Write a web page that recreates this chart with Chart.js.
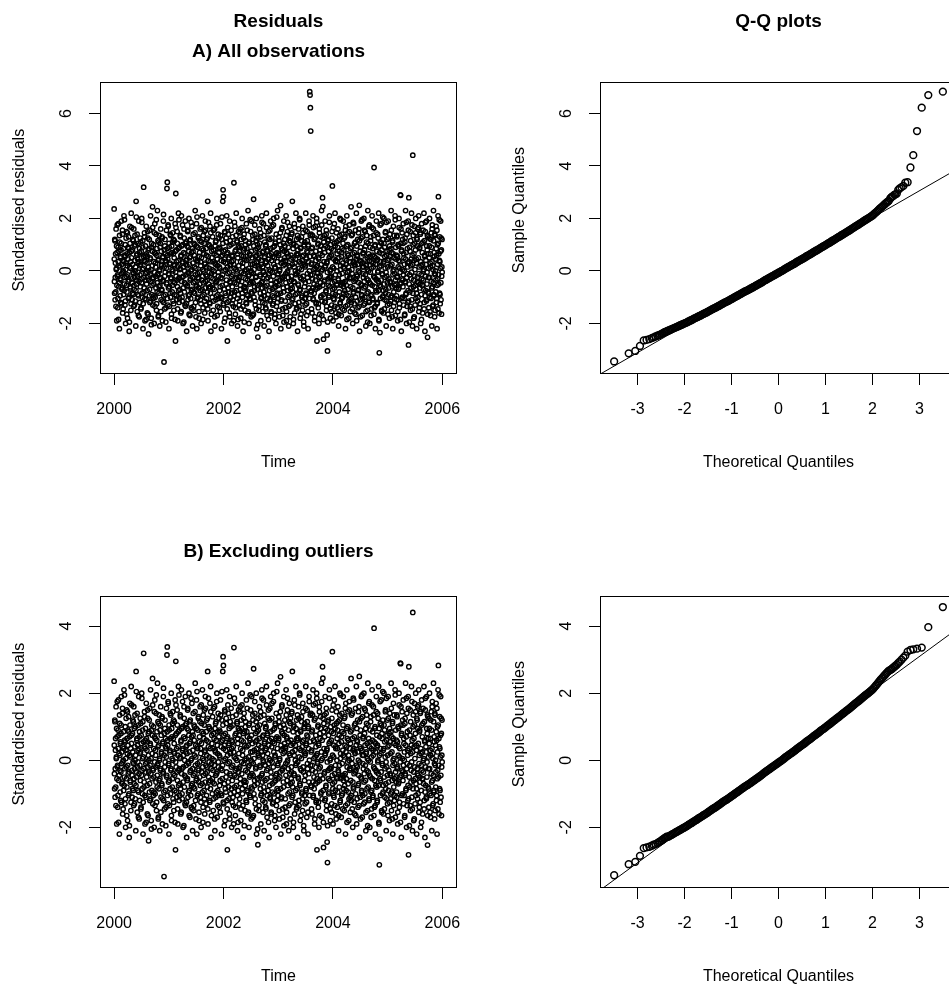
<!DOCTYPE html>
<html>
<head>
<meta charset="utf-8">
<script src="https://cdn.jsdelivr.net/npm/chart.js@4.4.1/dist/chart.umd.min.js"></script>
<style>
  html, body { margin: 0; padding: 0; background: #fff; overflow: hidden; }
  #page { position: relative; width: 949px; height: 987px; overflow: hidden; }
  canvas { position: absolute; }
</style>
</head>
<body>
<div id="page">
  <canvas id="resA" width="480" height="473" style="left:0;top:0"></canvas>
  <canvas id="qqA" width="500" height="473" style="left:480px;top:0"></canvas>
  <canvas id="resB" width="480" height="473" style="left:0;top:514px"></canvas>
  <canvas id="qqB" width="500" height="473" style="left:480px;top:514px"></canvas>
</div>
<script>
// Standardised residuals, 2000 to 2006: even-numbered observations
const residuals = [
  2.36,-0.4,1.2,-1.1,0.3,-0.8,1.6,0.1,-1.9,0.7,-0.2,-1.4,0.9,1.8,-0.6,0.2,-2.2,1.1,-0.3,0.5,
  -1.2,0.8,1.9,-0.1,-0.7,1.4,-1.6,0.4,0.0,-0.9,2.1,-0.5,0.6,-1.3,1.0,-2.0,0.3,-0.2,1.5,-0.8,
  0.2,-1.8,0.9,-0.4,1.3,-1.0,-2.3,0.7,1.7,-0.6,0.1,-1.5,2.2,0.5,-0.3,-1.1,0.8,1.2,-0.9,-0.1,
  1.6,-0.7,-1.3,0.4,0.0,1.0,-2.1,2.65,-0.5,0.6,1.4,-0.2,-0.9,0.3,-1.7,1.9,-0.4,0.7,-1.2,0.2,
  -0.6,1.1,-1.4,0.5,2.0,-0.3,-1.0,0.9,-2.2,0.1,3.19,-0.8,0.4,1.3,-1.9,0.6,-0.1,-1.1,1.7,-0.5,
  0.3,-1.6,1.5,-0.2,0.8,-2.4,0.0,1.2,-0.7,-1.2,0.5,2.1,-0.4,-1.8,0.9,-0.9,0.2,2.44,-1.3,-0.3,
  1.0,-0.5,-2.0,0.7,1.8,-1.0,0.3,-0.2,1.4,-1.5,0.6,-0.8,2.3,-0.1,0.4,-1.7,1.1,-0.6,0.0,-2.1,
  0.9,-0.3,1.6,-1.1,0.2,-0.7,1.3,-1.9,0.5,-0.4,1.9,-1.2,-3.47,0.8,-0.2,1.2,-0.9,0.4,-1.4,0.1,
  -0.5,3.14,3.38,0.6,-1.3,1.7,-0.1,-2.2,0.9,-0.6,0.3,1.4,-1.0,-0.3,2.0,-1.8,0.7,-0.8,1.1,0.0,
  -0.4,1.2,-1.5,0.5,0.2,-0.9,1.8,-2.67,2.95,-0.2,0.8,-1.1,1.5,-0.6,-1.9,0.4,2.2,-0.3,-1.2,0.9,
  -0.7,0.1,1.3,-1.6,0.6,2.1,-0.4,-1.0,0.3,1.0,-2.0,-0.2,0.7,1.6,-0.8,0.0,-1.3,1.9,-0.5,0.4,
  1.1,-2.3,0.2,-0.6,1.5,-1.1,0.9,-0.1,2.0,-0.9,0.5,-1.7,1.2,-0.3,0.0,-1.4,0.7,1.7,-0.7,-2.1,
  0.3,1.4,-0.8,-1.5,0.6,1.0,-0.4,2.3,-1.2,0.1,-0.6,1.8,-2.2,0.4,-0.1,0.9,-1.0,1.3,-0.3,-1.8,
  0.7,-0.5,1.6,-1.1,0.2,-2.0,0.5,1.1,-0.7,2.1,-0.2,-1.4,0.8,0.0,-0.9,1.5,-1.6,0.3,1.9,-0.4,
  -1.3,0.6,1.2,-0.2,-0.8,2.65,-1.9,0.4,-0.5,1.0,0.1,-1.2,1.7,-0.6,2.2,-2.3,0.9,-0.1,0.5,-1.0,
  1.3,-0.3,-1.5,0.8,0.0,-0.7,1.6,-2.1,0.3,1.1,-1.1,0.6,-0.4,2.0,-1.7,0.2,-0.9,1.4,-0.2,0.7,
  -1.4,0.9,0.1,-0.6,1.8,-1.0,0.4,-2.2,1.2,-0.3,0.6,2.65,3.09,2.83,-1.3,0.0,-0.7,1.5,-1.8,0.8,
  0.3,-0.5,1.1,2.1,-1.2,-2.67,0.7,-0.1,1.4,-0.8,0.5,-1.6,1.9,-0.4,0.2,-1.0,1.0,-0.2,-2.0,0.6,
  -0.6,1.3,-1.1,0.4,-1.9,3.36,0.1,-0.8,1.7,-0.3,-1.4,0.8,2.2,-0.5,0.0,1.1,-2.1,0.5,-0.9,1.5,
  0.2,-1.3,0.9,-0.2,1.6,-0.7,-1.8,1.2,0.6,-0.4,2.0,-1.0,0.3,-2.3,0.8,-0.1,1.4,-0.6,0.0,-1.5,
  1.0,-0.3,-1.2,1.8,0.4,-0.9,0.7,-1.6,2.3,-0.2,0.1,-2.0,1.1,-0.5,0.6,-1.1,1.5,0.0,-0.8,1.9,
  -0.4,0.5,-1.7,1.2,-0.1,2.73,-1.0,0.3,-0.6,1.4,-1.3,0.8,-0.2,2.0,-2.2,0.6,-0.7,1.0,-2.52,0.2,
  0.9,-1.5,0.1,1.6,-0.5,-0.2,1.3,-1.9,0.4,-1.0,2.1,-0.4,0.7,-1.2,0.0,1.8,-0.8,-2.1,0.5,1.1,
  -0.6,0.3,-1.4,1.0,2.2,-0.3,-1.7,0.8,0.2,-0.9,1.5,-0.1,-2.3,0.6,1.2,-1.1,0.0,1.9,-0.5,-1.6,
  0.4,1.7,-0.7,-1.3,0.9,-0.2,2.0,-1.0,0.5,-1.8,0.1,1.1,-0.6,-2.0,1.4,-0.4,0.7,-1.2,2.3,-0.1,
  -0.9,0.6,1.3,-1.5,0.0,-0.5,1.0,2.49,-2.2,0.3,-1.1,1.6,-0.3,0.8,-1.7,0.2,-0.8,1.9,-0.2,0.5,
  1.2,-1.4,0.4,-0.1,2.1,-1.9,0.7,-0.6,1.5,0.0,-1.0,0.9,-2.1,0.2,1.7,-0.4,-1.3,1.1,-0.7,0.6,
  -0.2,1.4,-1.1,2.65,-0.8,0.5,-2.0,1.0,-0.4,1.8,-1.6,0.3,0.0,-0.9,2.2,-0.1,1.2,-1.4,0.6,-2.3,
  0.8,-0.5,1.6,-1.2,0.1,2.0,-0.7,-1.8,0.9,0.3,-0.3,1.3,-1.0,0.4,-1.5,1.7,-0.2,0.6,-2.1,1.0,
  -0.6,1.1,-1.3,0.2,2.2,-0.9,0.5,-1.7,1.5,-0.1,0.7,-2.2,1.0,-0.4,1.9,0.0,6.83,6.70,6.22,5.33,
  1.4,-0.8,0.3,-1.6,0.9,-0.3,2.1,-1.1,0.6,-0.5,1.2,-1.9,0.1,1.7,-0.7,0.4,-1.2,2.0,-2.67,0.2,
  -0.1,1.0,-1.4,0.5,-2.0,1.6,-0.6,0.8,-0.2,1.3,-1.0,0.0,2.3,-1.7,0.6,2.79,2.45,-0.9,-2.6,1.1,
  -0.4,0.7,-1.2,1.9,0.2,-0.8,1.4,-1.5,0.3,-2.44,-3.05,0.9,-0.3,1.2,-1.0,0.5,2.1,-0.6,0.0,-1.8,
  1.0,-0.2,0.6,-1.3,1.5,3.24,-0.7,-1.9,0.8,0.1,-1.1,1.8,-0.4,2.2,-0.9,0.4,-1.6,1.1,-0.5,0.0,
  -1.4,0.9,1.6,-0.3,-2.1,0.5,-0.8,1.2,2.0,-1.2,0.2,-0.5,-1.7,0.7,1.4,-0.1,-1.0,0.3,1.9,-0.6,
  0.8,-1.5,0.1,1.3,-0.4,-2.2,1.7,-0.9,0.4,2.1,-0.2,-1.3,1.0,-0.7,0.6,-1.8,0.0,1.5,-0.3,-1.1,
  0.5,-0.6,2.44,-1.2,0.9,-0.1,1.4,-2.0,0.3,-0.8,1.8,-0.4,0.7,-1.6,0.2,1.1,-1.0,-0.3,2.2,-1.9,
  0.6,-0.2,1.2,-1.4,0.0,-0.7,1.6,2.50,-2.3,0.4,-1.1,0.9,-0.5,1.9,-0.9,0.3,-1.7,1.3,-0.1,0.7,
  -1.3,2.0,-0.4,0.8,-1.0,1.5,-0.6,-2.1,0.2,1.1,-0.3,0.5,-1.5,2.3,-0.8,0.0,1.7,-1.2,0.4,-2.0,
  0.9,-0.5,1.3,-1.7,0.1,-0.9,2.1,0.6,-1.1,0.3,1.6,-0.2,3.94,-1.4,-0.6,1.0,-2.2,0.5,-0.3,1.9,
  -0.8,0.4,-1.2,1.4,0.0,-0.4,2.2,-1.9,-3.12,0.7,-2.35,1.1,-0.6,0.2,1.8,-1.5,0.8,-0.1,-1.0,1.2,
  0.3,-1.6,2.0,-0.5,0.9,-1.1,0.1,1.5,-0.7,-2.1,0.6,-0.2,1.2,-1.3,0.4,1.9,-0.9,-0.3,0.8,-1.8,
  1.4,-0.4,0.2,-1.0,2.3,-1.5,0.7,-0.6,1.1,-2.2,0.0,1.7,-0.8,0.5,-1.2,-0.1,2.1,-1.7,0.9,-0.5,
  0.6,-1.1,1.3,-0.2,-1.9,1.0,-0.7,0.4,2.0,-1.4,0.1,-0.5,2.90,2.88,1.6,-2.3,0.8,-0.3,-1.0,1.2,
  -0.6,1.8,-1.3,0.5,0.0,-1.7,1.1,-0.4,2.30,-0.9,0.7,-2.0,1.4,-0.1,0.3,-1.2,1.9,-2.82,2.79,-0.5,
  0.9,-0.8,1.5,-1.5,0.2,-0.3,2.2,-1.1,0.6,-2.1,4.41,1.0,-0.6,-1.8,0.4,1.7,-0.2,-1.3,0.8,2.0,
  -0.7,0.3,-2.2,1.2,-0.4,1.6,-1.0,0.5,2.1,-0.1,-1.4,0.9,-0.5,1.4,-2.0,0.2,-0.9,1.8,-0.3,0.7,
  -1.6,1.1,0.0,-0.7,2.2,-1.2,0.6,-2.3,1.5,-0.2,0.4,-1.1,1.9,-0.5,0.8,-2.53,1.3,-0.8,0.1,-1.4,
  0.5,2.0,-1.0,0.3,-1.7,1.2,-0.4,0.9,-2.1,1.6,-0.6,0.2,-1.3,2.3,-0.9,0.7,-0.1,1.4,-1.5,0.0,
  -0.8,1.7,-1.2,0.6,-2.2,1.0,-0.3,2.1,2.83,-0.5,-1.6,0.4,1.3,-0.9,0.1,1.9,-1.1,0.8,-0.2,1.2
];
// odd-numbered observations (each falls between two of the values above)
const residualsMid = [
  0.45,-0.85,1.15,-0.25,0.65,-1.35,0.05,0.95,-0.55,1.75,-0.15,-1.05,0.35,-1.85,0.75,-0.45,1.35,0.15,-0.95,0.55,
  -0.35,1.05,-1.25,0.25,-0.65,1.55,-0.05,-1.45,0.85,0.35,-0.75,1.95,-0.25,0.55,-1.15,0.05,1.25,-0.55,-1.65,0.65,
  1.45,-0.15,0.45,-1.05,0.85,-0.35,-1.95,0.15,1.05,-0.65,0.35,-1.25,0.75,1.65,-0.45,-0.85,0.25,-0.05,1.15,-1.35,
  -0.55,0.95,-0.25,1.35,-1.15,0.15,-0.75,2.05,-0.35,0.65,-1.55,0.45,-0.05,1.05,-0.95,0.35,-1.75,0.85,-0.15,1.25,
  0.25,-1.45,0.75,-0.45,1.85,-0.85,0.05,1.15,-1.25,0.55,-0.25,-0.65,1.45,-1.05,0.35,0.95,-0.35,-1.85,0.65,-0.05,
  -0.75,0.55,1.25,-1.65,0.15,-0.35,0.85,-0.95,1.55,-0.15,0.45,-1.15,0.05,-2.05,1.05,-0.55,0.75,1.65,-0.25,-1.05,
  0.35,-0.95,1.45,-0.05,-1.35,0.65,0.15,-0.65,1.95,-1.25,0.85,-0.45,-0.15,1.15,-1.75,0.45,-0.85,1.35,0.05,-0.55,
  1.05,-0.25,-1.55,0.75,0.25,-0.75,1.25,-1.15,0.55,-0.35,2.15,-0.95,0.15,-1.45,0.95,-0.05,0.65,-1.95,0.35,1.55,
  -0.45,0.85,-1.05,0.45,1.75,-0.65,-0.15,1.05,-1.35,0.25,-0.85,0.65,1.35,-0.25,-1.65,0.95,0.05,-0.55,1.45,-1.15,
  0.65,-1.25,0.25,1.15,-0.45,-1.85,0.75,-0.05,1.65,-0.95,0.35,-0.35,1.05,-1.45,0.15,0.85,-0.75,1.95,-0.25,-1.05,
  0.05,1.35,-0.85,0.55,-1.55,0.95,-0.25,-1.15,1.75,0.35,-0.65,0.15,-1.95,1.25,-0.45,0.65,1.05,-1.35,0.25,-0.15,
  -1.25,0.45,0.95,-0.55,1.55,-0.05,-0.95,0.75,-1.65,0.25,1.15,-0.35,0.55,-1.05,1.85,-0.75,0.05,-1.45,0.85,-0.25,
  0.75,-0.45,-1.35,1.05,0.15,-0.85,1.45,-0.15,0.45,-1.75,0.95,-0.55,2.05,-1.05,0.35,-0.25,1.25,-0.65,-1.55,0.55,
  -0.05,1.15,-0.75,0.35,-1.25,1.65,-0.35,0.85,-0.95,0.05,-1.85,1.35,-0.45,0.65,1.05,-1.15,0.25,-0.65,1.55,-0.15,
  0.85,-1.05,0.15,-0.35,1.25,-1.45,0.55,1.85,-0.65,-0.05,0.95,-1.25,0.35,-0.85,1.45,-0.25,-1.65,0.75,0.05,-0.55,
  -0.65,0.35,1.55,-1.15,0.65,-0.15,-1.75,0.95,0.25,-0.45,1.15,-0.95,1.75,-0.35,0.45,-1.35,0.85,-0.05,-1.05,1.25,
  0.15,-0.75,0.85,-1.55,1.35,-0.25,0.55,-1.05,2.05,-0.55,-0.15,1.05,-1.25,0.35,0.75,-1.95,0.45,1.45,-0.85,0.05,
  -0.95,1.25,-0.35,0.65,-1.45,0.15,1.65,-0.65,0.45,-1.15,0.95,-0.05,-1.75,1.15,0.25,-0.45,1.55,-0.85,0.35,-1.25,
  0.55,-0.15,1.05,-1.35,0.25,-0.95,1.85,-0.45,0.75,-1.65,0.05,1.35,-0.75,-0.25,1.15,-1.05,0.65,-1.85,0.95,-0.35,
  -0.25,0.75,-1.15,1.45,-0.55,0.35,-1.45,0.95,-0.05,1.65,-0.85,0.15,-1.35,0.55,1.25,-0.65,-1.95,0.85,0.45,-0.75,
  1.15,-0.65,0.05,-1.25,0.85,1.55,-0.35,-0.95,0.45,-1.55,1.05,-0.15,0.65,-1.05,1.95,-0.45,0.25,-1.75,0.75,-0.05,
  -0.85,0.25,1.35,-0.45,-1.65,0.95,0.05,-0.75,1.75,-1.15,0.55,-0.25,1.15,-1.45,0.35,0.85,-0.55,-2.05,1.25,0.15,
  0.45,-1.35,0.65,1.05,-0.15,-0.85,1.45,-1.05,0.25,-0.45,1.85,-0.65,0.15,-1.55,0.75,-0.05,1.35,-0.95,0.55,-1.25,
  -0.15,0.95,-1.45,0.35,1.65,-0.55,-1.05,0.75,-0.25,1.25,-1.85,0.45,0.05,-0.75,1.55,-1.15,0.85,-0.35,-1.55,0.65,
  1.25,-0.05,-0.95,0.55,-1.25,1.75,0.25,-0.65,0.95,-1.65,0.15,1.05,-0.45,0.65,-1.35,2.05,-0.85,0.35,-0.15,-1.05,
  -0.55,0.65,1.15,-1.75,0.05,-0.35,1.45,-0.85,0.45,-1.15,0.85,1.65,-0.25,-1.45,0.35,-0.65,1.05,-1.95,0.75,0.25,
  0.95,-1.15,0.35,-0.45,1.35,-1.55,0.65,-0.05,1.85,-0.75,-0.25,0.55,-1.35,1.15,-0.95,0.15,-1.75,1.25,0.45,-0.55,
  -0.35,1.45,-0.65,0.25,-1.05,0.85,-1.85,1.05,0.15,-0.45,1.65,-1.25,0.45,-0.15,0.95,-1.45,0.65,-0.85,1.35,-0.05,
  0.65,-0.55,1.25,-1.35,0.35,1.95,-0.75,-0.25,0.85,-1.65,0.05,1.15,-0.95,0.55,-1.15,1.45,-0.35,-1.95,0.25,0.95,
  -1.05,0.15,-0.45,1.55,-0.85,0.45,-1.25,0.75,1.15,-0.25,-1.55,0.95,0.35,-0.65,1.75,-1.05,0.55,1.35,-0.15,-0.75,
  0.25,-1.45,0.85,-0.15,1.35,-0.65,-1.05,1.65,0.05,-0.85,0.55,-1.75,1.25,-0.35,0.75,-1.25,0.15,1.85,-0.55,-0.05,
  -0.65,1.05,-1.25,0.45,-0.25,1.45,-1.65,0.65,-0.45,0.95,-0.95,0.25,1.75,-1.15,0.05,-0.55,1.25,-1.85,0.85,0.35,
  1.35,-0.35,0.15,-1.15,0.95,-0.75,1.55,-1.35,0.35,-0.05,-1.95,1.15,-0.55,0.75,-0.95,1.85,-0.25,0.55,-1.45,0.05,
  -0.25,0.85,-1.55,1.25,-0.45,0.15,-0.85,1.65,-1.05,0.45,1.05,-0.65,-1.35,0.95,-0.15,0.35,-1.75,1.45,-0.55,0.65,
  0.35,-0.95,1.15,-0.35,-1.65,0.75,-0.15,1.35,-1.25,0.05,1.95,-0.55,0.55,-1.05,0.85,-0.45,-1.45,1.05,0.15,-0.85,
  -0.45,1.25,-0.75,0.45,1.55,-1.35,0.25,-0.55,0.95,-1.85,0.65,-0.05,1.45,-0.95,0.15,-1.15,1.75,-0.25,0.35,-1.55,
  0.85,-0.25,-1.05,1.35,0.05,-1.45,0.65,-0.65,1.85,-0.85,0.35,-1.25,1.05,0.25,-0.35,1.55,-1.65,0.45,-0.15,0.95,
  -1.15,0.55,0.25,-0.75,1.45,-0.45,-1.35,1.15,-0.05,0.75,-1.75,0.35,1.25,-0.55,-0.95,1.95,0.15,-1.05,0.65,-0.25,
  0.15,-0.65,1.55,-1.25,0.45,-0.15,0.95,-1.55,0.25,1.35,-0.85,0.05,-1.95,1.05,-0.35,0.65,-1.15,1.75,-0.45,0.55,
  -0.05,1.15,-0.95,0.35,-1.45,1.65,-0.55,0.85,-1.05,0.15,1.35,-1.65,0.55,-0.25,0.95,-1.35,0.25,-0.75,1.45,-0.35,
  0.75,-1.25,0.45,-0.05,1.25,-0.75,-1.85,0.95,0.15,-0.55,1.75,-1.05,0.35,-0.35,1.05,-1.55,0.65,-0.15,2.05,-0.95,
  -0.75,0.35,1.05,-1.45,0.55,-0.25,1.45,-0.85,-0.05,1.85,-1.15,0.75,-0.45,0.15,-1.65,1.25,-0.65,0.45,-1.25,0.95,
  0.55,-0.45,-1.15,0.85,1.55,-0.95,0.25,-1.75,1.15,-0.15,0.65,-1.35,0.05,1.35,-0.55,-1.05,1.95,-0.35,0.45,-0.65,
  -0.95,1.35,-0.25,0.55,-1.55,0.15,0.95,-0.65,1.65,-1.25,0.35,-0.05,-1.85,1.05,-0.45,0.75,-1.05,1.45,0.05,-0.35,
  1.05,-0.15,0.65,-1.05,0.25,-1.65,1.25,-0.45,0.45,-0.85,1.85,-0.25,-1.35,0.85,0.15,-0.75,1.55,-1.15,0.35,-1.95,
  -0.15,0.75,-1.35,1.15,-0.65,0.45,-0.05,1.75,-1.45,0.25,-0.85,1.35,-0.35,0.65,-1.75,1.05,0.05,-0.55,1.45,-1.05,
  0.45,-0.85,1.25,-0.25,-1.15,0.95,-0.45,1.65,-1.55,0.15,0.85,-0.65,-1.25,1.45,0.35,-0.15,-1.85,1.05,-0.55,0.25,
  -0.55,1.55,-0.35,0.05,-1.45,1.15,0.55,-0.95,1.85,-0.75,0.25,-1.15,0.95,-0.05,1.35,-1.65,0.65,-0.25,-0.85,1.25,
  0.95,-0.25,-1.55,0.65,0.15,-1.05,1.45,-0.65,0.35,1.75,-1.35,0.05,-0.45,1.15,-0.95,0.55,-1.75,1.35,-0.15,0.45,
  -0.35,0.85,-1.05,1.55,-0.55,0.25,-1.45,1.05,-0.15,0.65,1.95,-0.85,0.35,-1.25,0.75,-0.45,1.25,-1.65,0.15,-0.05
];
const tsStart = 2000;
const tsEnd = 2006;
// the four large residuals in mid 2003 (positions in `residuals`) are dropped for panel B
const outlierIndex = [596, 597, 598, 599];

// Q-Q plot: theoretical quantiles (shared by both rows) and sample quantiles
const qqTheoLow = [-3.50,-3.19,-3.05,-2.95,-2.87,-2.81,-2.75,-2.70,-2.66,-2.62,-2.58,-2.55,-2.52,-2.49,-2.47,-2.44,-2.42,-2.40,-2.38];
const qqTheoMid = [
  -2.35,-2.30,-2.25,-2.20,-2.15,-2.10,-2.05,-2.00,-1.95,-1.90,
  -1.85,-1.80,-1.75,-1.70,-1.65,-1.60,-1.55,-1.50,-1.45,-1.40,
  -1.35,-1.30,-1.25,-1.20,-1.15,-1.10,-1.05,-1.00,-0.95,-0.90,
  -0.85,-0.80,-0.75,-0.70,-0.65,-0.60,-0.55,-0.50,-0.45,-0.40,
  -0.35,-0.30,-0.25,-0.20,-0.15,-0.10,-0.05,0.00,0.05,0.10,
  0.15,0.20,0.25,0.30,0.35,0.40,0.45,0.50,0.55,0.60,
  0.65,0.70,0.75,0.80,0.85,0.90,0.95,1.00,1.05,1.10,
  1.15,1.20,1.25,1.30,1.35,1.40,1.45,1.50,1.55,1.60,
  1.65,1.70,1.75,1.80,1.85,1.90,1.95,2.00,2.05,2.10,
  2.15,2.20,2.25,2.30,2.35
];
const qqTheoMid2 = [
  -2.325,-2.275,-2.225,-2.175,-2.125,-2.075,-2.025,-1.975,-1.925,-1.875,
  -1.825,-1.775,-1.725,-1.675,-1.625,-1.575,-1.525,-1.475,-1.425,-1.375,
  -1.325,-1.275,-1.225,-1.175,-1.125,-1.075,-1.025,-0.975,-0.925,-0.875,
  -0.825,-0.775,-0.725,-0.675,-0.625,-0.575,-0.525,-0.475,-0.425,-0.375,
  -0.325,-0.275,-0.225,-0.175,-0.125,-0.075,-0.025,0.025,0.075,0.125,
  0.175,0.225,0.275,0.325,0.375,0.425,0.475,0.525,0.575,0.625,
  0.675,0.725,0.775,0.825,0.875,0.925,0.975,1.025,1.075,1.125,
  1.175,1.225,1.275,1.325,1.375,1.425,1.475,1.525,1.575,1.625,
  1.675,1.725,1.775,1.825,1.875,1.925,1.975,2.025,2.075,2.125,
  2.175,2.225,2.275,2.325
];
const qqTheoHigh = [2.38,2.40,2.42,2.44,2.47,2.49,2.52,2.55,2.58,2.62,2.66,2.70,2.75,2.81,2.87,2.95,3.05,3.19,3.50];

const qqSampleLowA = [-3.45,-3.14,-3.05,-2.86,-2.65,-2.63,-2.60,-2.56,-2.53,-2.50,-2.47,-2.45,-2.43,-2.40,-2.38,-2.35,-2.33,-2.32,-2.30];
const qqSampleMid = [
  -2.28,-2.24,-2.20,-2.16,-2.12,-2.08,-2.04,-2.00,-1.96,-1.91,
  -1.87,-1.82,-1.78,-1.73,-1.69,-1.64,-1.60,-1.55,-1.50,-1.45,
  -1.41,-1.36,-1.31,-1.26,-1.21,-1.17,-1.12,-1.07,-1.02,-0.97,
  -0.92,-0.87,-0.82,-0.77,-0.73,-0.68,-0.63,-0.58,-0.53,-0.48,
  -0.43,-0.37,-0.32,-0.27,-0.22,-0.17,-0.12,-0.07,-0.02,0.03,
  0.09,0.14,0.19,0.24,0.29,0.35,0.40,0.45,0.50,0.56,
  0.61,0.66,0.72,0.77,0.82,0.88,0.93,0.98,1.04,1.09,
  1.15,1.20,1.26,1.31,1.37,1.42,1.48,1.53,1.59,1.65,
  1.71,1.76,1.82,1.88,1.94,1.99,2.05,2.11,2.19,2.27,
  2.36,2.44,2.52,2.60,2.67
];
const qqSampleMid2 = [
  -2.26,-2.22,-2.18,-2.14,-2.10,-2.06,-2.02,-1.98,-1.935,-1.89,
  -1.845,-1.80,-1.755,-1.71,-1.665,-1.62,-1.575,-1.525,-1.475,-1.43,
  -1.385,-1.335,-1.285,-1.235,-1.19,-1.145,-1.095,-1.045,-0.995,-0.945,
  -0.895,-0.845,-0.795,-0.75,-0.705,-0.655,-0.605,-0.555,-0.505,-0.455,
  -0.40,-0.345,-0.295,-0.245,-0.195,-0.145,-0.095,-0.045,0.005,0.06,
  0.115,0.165,0.215,0.265,0.32,0.375,0.425,0.475,0.53,0.585,
  0.635,0.69,0.745,0.795,0.85,0.905,0.955,1.01,1.065,1.12,
  1.175,1.23,1.285,1.34,1.395,1.45,1.505,1.56,1.62,1.68,
  1.735,1.79,1.85,1.91,1.965,2.02,2.08,2.15,2.23,2.315,
  2.40,2.48,2.56,2.635
];
const qqSampleHighA = [2.76,2.80,2.83,2.85,2.90,2.92,2.95,3.09,3.14,3.19,3.24,3.36,3.38,3.94,4.41,5.33,6.22,6.70,6.83];
const qqSampleLowB = [-3.43,-3.10,-3.03,-2.85,-2.62,-2.60,-2.58,-2.55,-2.52,-2.50,-2.47,-2.44,-2.42,-2.39,-2.37,-2.34,-2.32,-2.30,-2.28];
const qqSampleHighB = [2.69,2.71,2.73,2.76,2.79,2.82,2.85,2.90,2.94,3.00,3.06,3.12,3.24,3.29,3.31,3.33,3.36,3.97,4.57];

// reference lines (qqline) at the two ends of the theoretical axis
const qqLineX = [-4, 4];
const qqLineYA = [-4.14, 4.08];
const qqLineYB = [-4.08, 4.12];

// tick labels
const timeTicks = [2000, 2002, 2004, 2006];
const residTicksA = [-2, 0, 2, 4, 6];
const residTicksB = [-2, 0, 2, 4];
const qqTicks = [-3, -2, -1, 0, 1, 2, 3];

Chart.defaults.font.family = '"Liberation Sans", Arial, Helvetica, sans-serif';
Chart.defaults.color = '#000';

// time of each observation: even ones from `residuals`, odd ones from `residualsMid`
const step = (tsEnd - tsStart) / (residuals.length + residualsMid.length);
const evenA = residuals.map((v, i) => ({x: tsStart + 2 * i * step, y: v}));
const oddPts = residualsMid.map((v, i) => ({x: tsStart + (2 * i + 1) * step, y: v}));
const seriesA = evenA.concat(oddPts);
const seriesB = evenA.filter((p, i) => !outlierIndex.includes(i)).concat(oddPts);

const pairs = (xs, ys) => xs.map((x, i) => ({x: x, y: ys[i]}));
const qqTheo = [...qqTheoLow, ...qqTheoMid, ...qqTheoMid2, ...qqTheoHigh];
const qqPointsA = pairs(qqTheo, [...qqSampleLowA, ...qqSampleMid, ...qqSampleMid2, ...qqSampleHighA]);
const qqPointsB = pairs(qqTheo, [...qqSampleLowB, ...qqSampleMid, ...qqSampleMid2, ...qqSampleHighB]);

// box round the plot region, like R's box()
const frame = {
    id: 'frame',
    afterDatasetsDraw(chart) {
        const {ctx, chartArea: a} = chart;
        ctx.save();
        ctx.strokeStyle = '#000';
        ctx.lineWidth = 1;
        ctx.strokeRect(Math.round(a.left) - 0.5, Math.round(a.top) - 0.5,
            Math.round(a.right - a.left) + 1, Math.round(a.bottom - a.top) + 1);
        ctx.restore();
    }
};

const YPAD = '        ';  // nudges the rotated axis title upwards, as in the original

function axis(a) {
    const vertical = a.vertical;
    return {
        type: 'linear',
        min: a.min,
        max: a.max,
        afterBuildTicks: s => { s.ticks = a.ticks.map(v => ({value: v})); },
        afterFit: s => { if (vertical) s.width = a.size; else s.height = a.size; },
        grid: { drawOnChartArea: false, drawTicks: true, tickLength: 12, color: '#000', lineWidth: 1 },
        border: { display: false },
        ticks: {
            autoSkip: false,
            color: '#000',
            font: { size: 16 },
            padding: vertical ? 15.2 : 15.4,
            minRotation: vertical ? 90 : 0,
            maxRotation: vertical ? 90 : 0,
            crossAlign: vertical ? 'center' : 'near',
            callback: v => String(v)
        },
        title: {
            display: true,
            text: a.title,
            color: '#000',
            font: { size: 16 },
            padding: vertical ? {top: a.titleOffset, bottom: 0} : {top: 0, bottom: 0.7}
        }
    };
}

function panel(id, o) {
    new Chart(document.getElementById(id), {
        type: 'scatter',
        data: { datasets: o.datasets },
        options: {
            responsive: false,
            animation: false,
            events: [],
            layout: { padding: o.padding },
            plugins: {
                legend: { display: false },
                tooltip: { enabled: false },
                title: o.title
            },
            scales: { x: axis(o.x), y: axis(o.y) }
        },
        plugins: [frame]
    });
}

function titleOpts(text, top, bottom) {
    return {
        display: true,
        fullSize: false,
        text: text,
        color: '#000',
        font: { size: 19, weight: 'bold', lineHeight: '30px' },
        padding: { top: top, bottom: bottom }
    };
}

const residStyle = { pointRadius: 2.2, borderWidth: 1.4, borderColor: '#000', backgroundColor: 'rgba(0,0,0,0)', pointHoverRadius: 2.2 };
const qqStyle = { pointRadius: 3.4, borderWidth: 1.5, borderColor: '#000', backgroundColor: 'rgba(0,0,0,0)', pointHoverRadius: 3.4 };
const lineStyle = { showLine: true, borderColor: '#000', borderWidth: 1, pointRadius: 0, fill: false };

panel('resA', {
    padding: { left: 0, right: 24, top: 0, bottom: 0 },
    title: titleOpts(['Residuals', 'A) All observations'], 6.7, 16.3),
    datasets: [Object.assign({ data: seriesA }, residStyle)],
    x: { min: 1999.76, max: 2006.25, ticks: timeTicks, size: 100, title: 'Time' },
    y: { vertical: true, min: -3.89, max: 7.16, ticks: residTicksA, size: 101, title: YPAD + 'Standardised residuals', titleOffset: 10.4 }
});

panel('qqA', {
    padding: { left: 0, right: 24, top: 0, bottom: 0 },
    title: titleOpts('Q-Q plots', 6.7, 46.3),
    datasets: [
        Object.assign({ data: pairs(qqLineX, qqLineYA) }, lineStyle),
        Object.assign({ data: qqPointsA }, qqStyle)
    ],
    x: { min: -3.78, max: 3.78, ticks: qqTicks, size: 100, title: 'Theoretical Quantiles' },
    y: { vertical: true, min: -3.89, max: 7.16, ticks: residTicksA, size: 121, title: YPAD + 'Sample Quantiles', titleOffset: 30.4 }
});

panel('resB', {
    padding: { left: 0, right: 24, top: 0, bottom: 0 },
    title: titleOpts('B) Excluding outliers', 23, 30),
    datasets: [Object.assign({ data: seriesB }, residStyle)],
    x: { min: 1999.76, max: 2006.25, ticks: timeTicks, size: 100, title: 'Time' },
    y: { vertical: true, min: -3.78, max: 4.87, ticks: residTicksB, size: 101, title: YPAD + 'Standardised residuals', titleOffset: 10.4 }
});

panel('qqB', {
    padding: { left: 0, right: 24, top: 83, bottom: 0 },
    title: { display: false },
    datasets: [
        Object.assign({ data: pairs(qqLineX, qqLineYB) }, lineStyle),
        Object.assign({ data: qqPointsB }, qqStyle)
    ],
    x: { min: -3.78, max: 3.78, ticks: qqTicks, size: 100, title: 'Theoretical Quantiles' },
    y: { vertical: true, min: -3.78, max: 4.87, ticks: residTicksB, size: 121, title: YPAD + 'Sample Quantiles', titleOffset: 30.4 }
});
</script>
</body>
</html>
